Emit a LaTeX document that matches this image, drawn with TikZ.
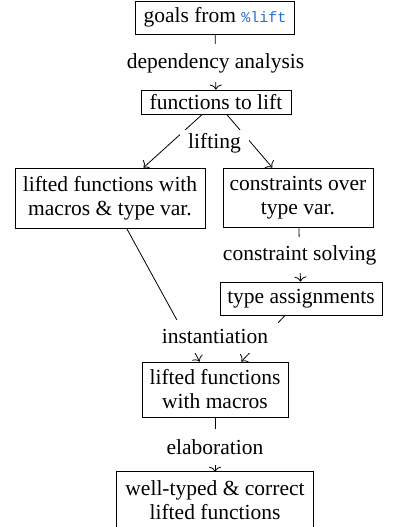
\documentclass[tikz,border=0pt]{standalone}
\usepackage{fontspec}
\setmainfont{Liberation Serif}
\newfontfamily\codefont{Liberation Mono}
\usetikzlibrary{arrows.meta}
\definecolor{codeblue}{RGB}{38,110,205}
\begin{document}
\begin{tikzpicture}[x=1pt,y=-1pt,
  font=\fontsize{21.5}{24}\selectfont,
  box/.style={draw, line width=0.8pt, inner sep=2pt, align=center},
  openbox/.style={inner sep=2pt, align=center},
  lab/.style={fill=white, inner sep=0pt},
  arr/.style={-{To[length=5pt,width=12pt,line width=0.8pt]}, line width=0.8pt}]
\useasboundingbox (0,0) rectangle (394,527);
% boxes
\node[box, minimum width=159pt, minimum height=33pt] (g) at (215,17.5)
  {goals from {\codefont\fontsize{15}{18}\selectfont\color{codeblue}\%lift}};
\node[box, minimum width=150pt, minimum height=24pt] (f) at (216,102) {functions to lift};
\node[box, minimum width=190pt, minimum height=60pt] (l) at (110,198)
  {lifted functions with\\macros \& type var.};
\node[box, minimum width=150pt, minimum height=59pt] (c) at (298,197.5)
  {constraints over\\type var.};
\node[box, minimum width=162pt, minimum height=33pt] (t) at (301,298.5) {type assignments};
\node[box, minimum width=146pt, minimum height=55pt] (m) at (215,389.5)
  {lifted functions\\with macros};
\node[openbox, minimum width=196pt, minimum height=57pt] (w) at (215,500.5)
  {well-typed \& correct\\lifted functions};
% the last box runs past the picture's lower edge
\draw[line width=0.8pt] ([yshift=-12pt]w.south west) -- (w.north west) -- (w.north east) -- ([yshift=-12pt]w.south east);
% connectors
\draw[arr] (g) -- node[lab, pos=0.518, minimum height=38pt] (dep) {dependency analysis} (f);
\draw[arr] (f) -- (l);
\draw[arr] (f) -- (c);
\draw[arr] (c) -- node[lab, pos=0.509, minimum height=36pt] (cs) {constraint solving} (t);
\draw[arr] (l) -- (m);
\draw[arr] (t) -- (m);
\draw[arr] (m) -- node[lab, pos=0.545, minimum height=36pt] (el) {elaboration} (w);
% shared labels
\node[lab, minimum width=69pt, minimum height=28pt] (lift) at (214.5,143.5) {lifting};
\node[lab, minimum width=126pt, minimum height=33pt] (inst) at (215,336.5) {instantiation};
\end{tikzpicture}
\end{document}
